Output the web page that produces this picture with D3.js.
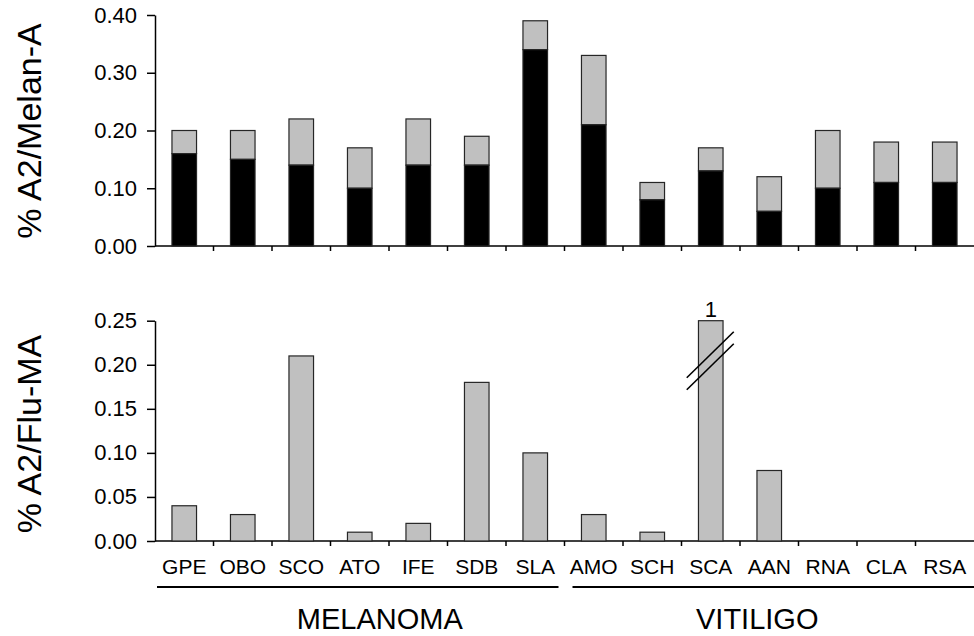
<!DOCTYPE html>
<html>
<head>
<meta charset="utf-8">
<script src="https://cdn.jsdelivr.net/npm/d3@7"></script>
<style>
  body { margin: 0; background: #fff; }
  svg { display: block; font-family: "Liberation Sans", Arial, sans-serif; }
</style>
</head>
<body>
<div id="root"></div>
<script>
// patients, in the order they appear on the x axis
const patients = ['GPE', 'OBO', 'SCO', 'ATO', 'IFE', 'SDB', 'SLA',
  'AMO', 'SCH', 'SCA', 'AAN', 'RNA', 'CLA', 'RSA'];
const groups = [
  { name: 'MELANOMA', first: 'GPE', last: 'SLA' },
  { name: 'VITILIGO', first: 'AMO', last: 'RSA' }
];

// top panel: % A2/Melan-A, black part and total height of the stacked bar
const melanBlack = [0.16, 0.15, 0.14, 0.10, 0.14, 0.14, 0.34, 0.21, 0.08, 0.13, 0.06, 0.10, 0.11, 0.11];
const melanTotal = [0.20, 0.20, 0.22, 0.17, 0.22, 0.19, 0.39, 0.33, 0.11, 0.17, 0.12, 0.20, 0.18, 0.18];
const melanTicks = [0, 0.1, 0.2, 0.3, 0.4];

// bottom panel: % A2/Flu-MA (SCA is off the scale, value 1)
const fluValues = [0.04, 0.03, 0.21, 0.01, 0.02, 0.18, 0.10, 0.03, 0.01, 1, 0.08, 0, 0, 0];
const fluTicks = [0, 0.05, 0.10, 0.15, 0.20, 0.25];

const width = 974, height = 636;
const grey = '#c0c0c0', edge = '#262626';

const svg = d3.select('#root').append('svg')
  .attr('width', width)
  .attr('height', height)
  .attr('viewBox', [0, 0, width, height]);

const x = d3.scaleBand()
  .domain(patients)
  .range([155, 974])
  .paddingInner(0.58)
  .paddingOuter(0.29);

const yTop = d3.scaleLinear().domain([0, 0.4]).range([246, 15]);
const yBot = d3.scaleLinear().domain([0, 0.25]).range([541, 320.7]);

// boundaries between categories, where the x ticks sit
const boundary = (c) => x(c) + x.bandwidth() / 2 - x.step() / 2;

function drawAxes(y, ticks, title, titleY) {
  const g = svg.append('g');

  const yAxis = g.append('g')
    .attr('transform', `translate(${x.range()[0]},0)`)
    .call(d3.axisLeft(y).tickValues(ticks).tickFormat(d3.format('.2f')).tickSize(8).tickPadding(10).tickSizeOuter(0));
  yAxis.select('.domain').attr('stroke', '#000').attr('stroke-width', 1.5);
  yAxis.selectAll('.tick line').attr('stroke', '#000').attr('stroke-width', 1.5);
  yAxis.selectAll('.tick text')
    .attr('fill', '#000')
    .style('font-size', '22px')
    .style('font-family', '"Liberation Sans", Arial, sans-serif');

  // x baseline with small ticks on the category boundaries
  g.append('line')
    .attr('x1', x.range()[0]).attr('x2', x.range()[1])
    .attr('y1', y(0)).attr('y2', y(0))
    .attr('stroke', '#000').attr('stroke-width', 1.5);
  g.selectAll('.xtick')
    .data(patients.slice(1))
    .join('line')
    .attr('class', 'xtick')
    .attr('x1', boundary).attr('x2', boundary)
    .attr('y1', y(0)).attr('y2', y(0) + 5)
    .attr('stroke', '#000').attr('stroke-width', 1.5);

  g.append('text')
    .attr('transform', `translate(41,${titleY}) rotate(-90)`)
    .attr('text-anchor', 'middle')
    .style('font-size', '34px')
    .text(title);
}

drawAxes(yTop, melanTicks, '% A2/Melan-A', 131);
drawAxes(yBot, fluTicks, '% A2/Flu-MA', 434);

// top panel: stacked bars, grey upper part then black lower part
const melanData = patients.map((p, i) => ({ p, black: melanBlack[i], total: melanTotal[i] }));
const topBars = svg.append('g').selectAll('g')
  .data(melanData)
  .join('g')
  .attr('transform', (d) => `translate(${x(d.p)},0)`);

topBars.append('rect')
  .attr('width', x.bandwidth())
  .attr('y', (d) => yTop(d.total))
  .attr('height', (d) => yTop(d.black) - yTop(d.total))
  .attr('fill', grey)
  .attr('stroke', edge)
  .attr('stroke-width', 1.2);

topBars.append('rect')
  .attr('width', x.bandwidth())
  .attr('y', (d) => yTop(d.black))
  .attr('height', (d) => yTop(0) - yTop(d.black))
  .attr('fill', '#000')
  .attr('stroke', edge)
  .attr('stroke-width', 1.2);

// bottom panel: single grey bars, clipped at the top of the axis
const fluMax = yBot.domain()[1];
const fluData = patients.map((p, i) => ({ p, v: fluValues[i] }));
svg.append('g').selectAll('rect')
  .data(fluData.filter((d) => d.v > 0))
  .join('rect')
  .attr('x', (d) => x(d.p))
  .attr('width', x.bandwidth())
  .attr('y', (d) => yBot(Math.min(d.v, fluMax)))
  .attr('height', (d) => yBot(0) - yBot(Math.min(d.v, fluMax)))
  .attr('fill', grey)
  .attr('stroke', edge)
  .attr('stroke-width', 1.2);

// broken bar: value label on top and two slanted break marks
const broken = fluData.filter((d) => d.v > fluMax);
const brk = svg.append('g').selectAll('g')
  .data(broken)
  .join('g')
  .attr('transform', (d) => `translate(${x(d.p) + x.bandwidth() / 2},${yBot(fluMax)})`);

brk.append('text')
  .attr('y', -4)
  .attr('text-anchor', 'middle')
  .style('font-size', '22px')
  .text((d) => d3.format('d')(d.v));

brk.selectAll('line')
  .data([34, 46])
  .join('line')
  .attr('x1', -24).attr('y1', (d) => d + 23)
  .attr('x2', 23).attr('y2', (d) => d - 23)
  .attr('stroke', '#000')
  .attr('stroke-width', 1.6);

// category labels
svg.append('g').selectAll('text')
  .data(patients)
  .join('text')
  .attr('x', (d) => x(d) + x.bandwidth() / 2)
  .attr('y', 574)
  .attr('text-anchor', 'middle')
  .style('font-size', '21px')
  .text((d) => d);

// group underlines and names
const groupLabelShift = { MELANOMA: 20, VITILIGO: -12 };
const gg = svg.append('g').selectAll('g')
  .data(groups)
  .join('g');

gg.append('line')
  .attr('x1', (d, i) => (i === 0 ? boundary(d.first) + 2 : boundary(d.first) + 8))
  .attr('x2', (d, i) => (i === 0 ? boundary(d.last) + x.step() - 6 : x.range()[1]))
  .attr('y1', 587).attr('y2', 587)
  .attr('stroke', '#000')
  .attr('stroke-width', 2.2);

gg.append('text')
  .attr('x', (d) => (boundary(d.first) + boundary(d.last) + x.step()) / 2 + groupLabelShift[d.name])
  .attr('y', 629)
  .attr('text-anchor', 'middle')
  .style('font-size', '29px')
  .text((d) => d.name);
</script>
</body>
</html>
